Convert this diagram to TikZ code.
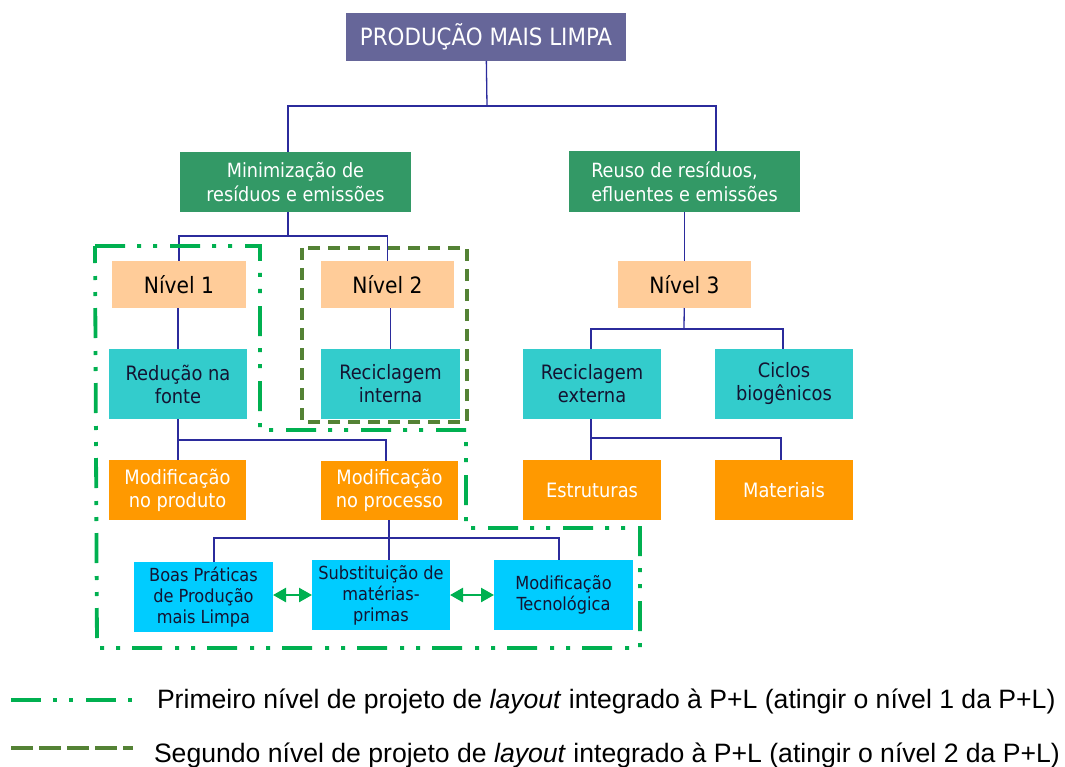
\documentclass[tikz,border=0pt]{standalone}
\usepackage{fontspec}
\setmainfont{DejaVu Sans Condensed}
\newfontfamily\legendfont{Liberation Sans}
\usetikzlibrary{arrows.meta}

\definecolor{titlefill}{HTML}{666699}
\definecolor{groupfill}{HTML}{339966}
\definecolor{levelfill}{HTML}{FFCC99}
\definecolor{actfill}{HTML}{33CCCC}
\definecolor{modfill}{HTML}{FF9900}
\definecolor{techfill}{HTML}{00CCFF}
\definecolor{linkcol}{HTML}{2B2B9C}
\definecolor{firstlvl}{HTML}{00B050}
\definecolor{secondlvl}{HTML}{548235}
\definecolor{darktext}{HTML}{141432}

\begin{document}
\begin{tikzpicture}[x=1pt,y=-1pt,
  box/.style={draw=none, inner sep=0pt, outer sep=0pt, align=center},
  titlebox/.style={box, fill=titlefill, text=white, font=\fontsize{23.8}{28}\selectfont},
  groupbox/.style={box, fill=groupfill, text=white, font=\fontsize{19.6}{24}\selectfont},
  levelbox/.style={box, fill=levelfill, text=black, font=\fontsize{22.5}{26}\selectfont},
  actbox/.style={box, fill=actfill, text=darktext, font=\fontsize{19.8}{23}\selectfont},
  modbox/.style={box, fill=modfill, text=white, font=\fontsize{19.8}{23}\selectfont},
  techbox/.style={box, fill=techfill, text=darktext, font=\fontsize{18}{21}\selectfont},
  link/.style={draw=linkcol, line width=1.3pt},
  twoway/.style={draw=firstlvl, line width=2.5pt,
    arrows={Triangle[length=13pt,width=14pt]-Triangle[length=13pt,width=14pt]}},
  lvlone/.style={draw=firstlvl, line width=3.8pt,
    dash pattern=on 30pt off 12pt on 4pt off 12pt on 4pt off 13pt},
  lvltwo/.style={draw=secondlvl, line width=3.8pt, dash pattern=on 12pt off 8pt},
  lvltwoleg/.style={draw=secondlvl, line width=3.8pt, dash pattern=on 22pt off 6pt},
  legtext/.style={inner sep=0pt, outer sep=0pt, anchor=base west,
    font=\legendfont\fontsize{26.6}{30}\selectfont}
]
\useasboundingbox (0,0) rectangle (1065,767);

% ---- boxes ----
\node[titlebox, minimum width=280, minimum height=48] (top) at (486,37) {PRODUÇÃO MAIS LIMPA};

\node[groupbox, minimum width=231, minimum height=60] (min) at (295.5,182) {Minimização de\\resíduos e emissões};
\node[groupbox, align=left, minimum width=231, minimum height=61] (reuso) at (684.5,181.5) {Reuso de resíduos,\\efluentes e emissões};

\node[levelbox, minimum width=134, minimum height=47] (n1) at (179,284.5) {Nível 1};
\node[levelbox, minimum width=133, minimum height=47] (n2) at (387.5,284.5) {Nível 2};
\node[levelbox, minimum width=133, minimum height=47] (n3) at (684.5,284.5) {Nível 3};

\node[actbox, minimum width=138, minimum height=70] (red) at (178,384) {Redução na\\fonte};
\node[actbox, minimum width=139, minimum height=70] (recint) at (390.5,384) {Reciclagem\\interna};
\node[actbox, minimum width=138, minimum height=70] (recext) at (592,384) {Reciclagem\\externa};
\node[actbox, minimum width=138, minimum height=70] (ciclos) at (784,384) {Ciclos\\biogênicos};

\node[modbox, minimum width=137, minimum height=60] (modprod) at (177.5,490) {Modificação\\no produto};
\node[modbox, minimum width=137, minimum height=59] (modproc) at (389.5,490.5) {Modificação\\no processo};
\node[modbox, minimum width=138, minimum height=60] (estr) at (592,490) {Estruturas};
\node[modbox, minimum width=138, minimum height=60] (mat) at (784,490) {Materiais};

\node[techbox, minimum width=139, minimum height=70] (boas) at (203.5,597) {Boas Práticas\\de Produção\\mais Limpa};
\node[techbox, minimum width=138, minimum height=70] (subst) at (381,595) {Substituição de\\matérias-\\primas};
\node[techbox, minimum width=139, minimum height=70] (tec) at (563.5,595) {Modificação\\Tecnológica};

% ---- junctions ----
\coordinate (j1) at (487,106);
\coordinate (j2) at (288,236);
\coordinate (j3) at (178,440);
\coordinate (j4) at (389,538);
\coordinate (j5) at (684,329);
\coordinate (j6) at (591,438);

% ---- tree connectors ----
\draw[link] (top) -- (j1);
\draw[link] ([xshift=-7.5]min.north) |- (j1) -| ([xshift=31.5]reuso.north);

\draw[link] (j2 |- min.south) -- (j2);
\draw[link] (n1) |- (j2) -| (n2);
\draw[link] (n1.south -| red.north) -- (red.north);
\draw[link] (recint.north |- n2.south) -- (recint.north);

\draw[link] (red.south) -- (red.south |- modprod.north);
\draw[link] (j3) -| ([xshift=-3.5]modproc.north);

\draw[link] (modproc.south -| j4) -- (subst.north -| j4);
\draw[link] ([xshift=10.5]boas.north) |- (j4) -| ([xshift=-4.5]tec.north);

\draw[link] (reuso) -- (n3);
\draw[link] (n3) -- (j5);
\draw[link] ([xshift=-1]recext.north) |- (j5) -| ([xshift=-1]ciclos.north);

\draw[link] (recext.south -| j6) -- (estr.north -| j6);
\draw[link] (j6) -| ([xshift=-3]mat.north);

% ---- two-way arrows ----
\draw[twoway] (subst.west -| boas.east) -- (subst.west);
\draw[twoway] (subst.east) -- (tec.west);

% ---- project level outlines ----
\draw[lvltwo] (302,248) rectangle (467,422);
\draw[lvlone] (95,246) -- (260,246) -- (260,430) -- (466,430) -- (466,528)
  -- (640,528) -- (640,648) -- (97,648) -- cycle;

% ---- legend ----
\node[legtext] (leg1) at (157,708) {Primeiro nível de projeto de \textit{layout} integrado à P+L (atingir o nível 1 da P+L)};
\node[legtext] (leg2) at (154,762) {Segundo nível de projeto de \textit{layout} integrado à P+L (atingir o nível 2 da P+L)};
\coordinate (sw1) at (11,700);
\coordinate (sw2) at (11,748);
\draw[lvlone] (sw1) -- ++(122,0);
\draw[lvltwoleg] (sw2) -- ++(122,0);
\end{tikzpicture}
\end{document}
